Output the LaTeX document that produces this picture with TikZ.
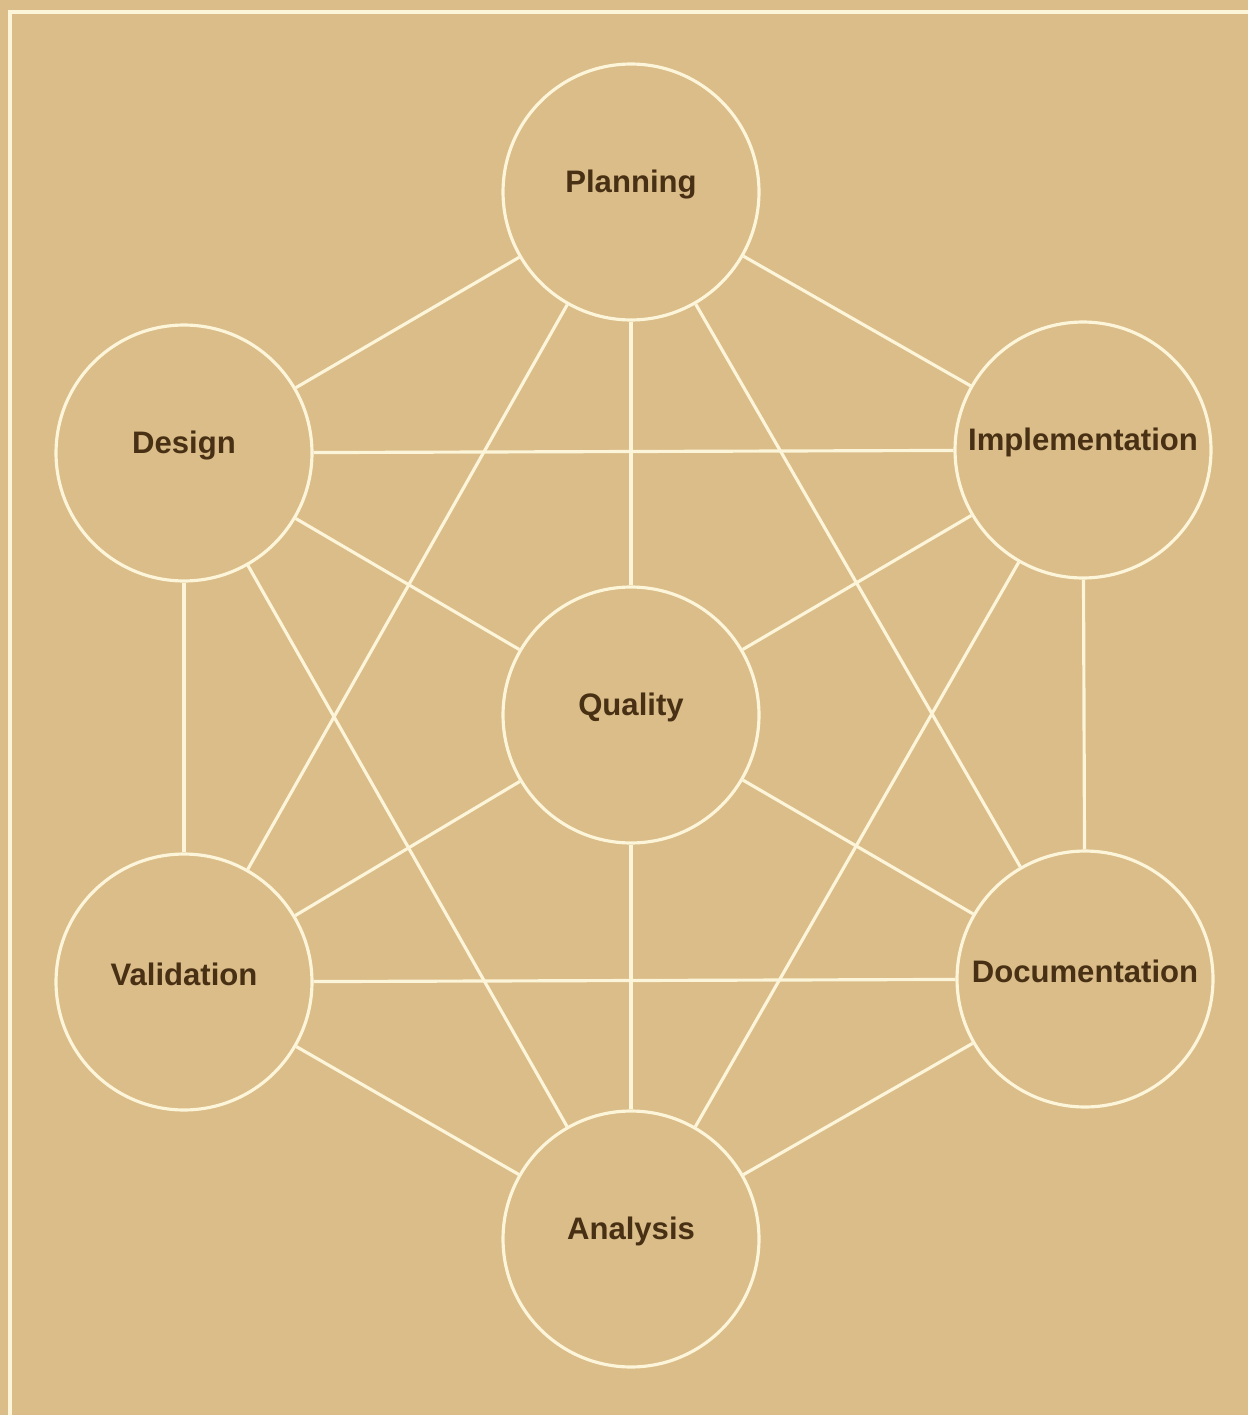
\documentclass[tikz,border=0pt]{standalone}
\usepackage{xcolor}
\usepackage{fontspec}
\setmainfont{Liberation Sans}
\usepackage{tikz}
\usetikzlibrary{positioning}
\definecolor{tan}{RGB}{219,189,137}
\definecolor{cream}{RGB}{252,245,218}
\definecolor{brown}{RGB}{72,48,20}
\tikzset{
  ring/.style={circle, draw=cream, line width=1.8pt, minimum size=5.12cm, inner sep=0pt},
  tag/.style={yshift=0.15cm, font=\fontsize{17.7}{20}\selectfont\bfseries, text=brown},
  link/.style={draw=cream, line width=1.8pt},
  frame/.style={draw=cream, line width=2.2pt}
}
\begin{document}
\begin{tikzpicture}[x=0.02cm, y=-0.02cm]
\fill[tan] (0,0) rectangle (1248,1415);
\useasboundingbox (0,0) rectangle (1248,1415);
\draw[frame] (10,1415) -- (10,12) -- (1248,12);

\node[ring, label={[tag]center:Planning}] (plan) at (631,192) {};
\node[ring, label={[tag]center:Design}] (design) at (184,453) {};
\node[ring, label={[tag]center:Implementation}] (impl) at (1083,450) {};
\node[ring, label={[tag]center:Quality}] (quality) at (631,715) {};
\node[ring, label={[tag]center:Validation}] (valid) at (184,982) {};
\node[ring, label={[tag]center:Documentation}] (doc) at (1085,979) {};
\node[ring, label={[tag]center:Analysis}] (analysis) at (631,1239) {};

\draw[link] (plan) -- (design);
\draw[link] (plan) -- (impl);
\draw[link] (plan) -- (quality);
\draw[link] (plan) -- (valid);
\draw[link] (plan) -- (doc);
\draw[link] (design) -- (impl);
\draw[link] (design) -- (quality);
\draw[link] (design) -- (valid);
\draw[link] (design) -- (analysis);
\draw[link] (impl) -- (quality);
\draw[link] (impl) -- (doc);
\draw[link] (impl) -- (analysis);
\draw[link] (quality) -- (valid);
\draw[link] (quality) -- (doc);
\draw[link] (quality) -- (analysis);
\draw[link] (valid) -- (doc);
\draw[link] (valid) -- (analysis);
\draw[link] (doc) -- (analysis);
\end{tikzpicture}
\end{document}
